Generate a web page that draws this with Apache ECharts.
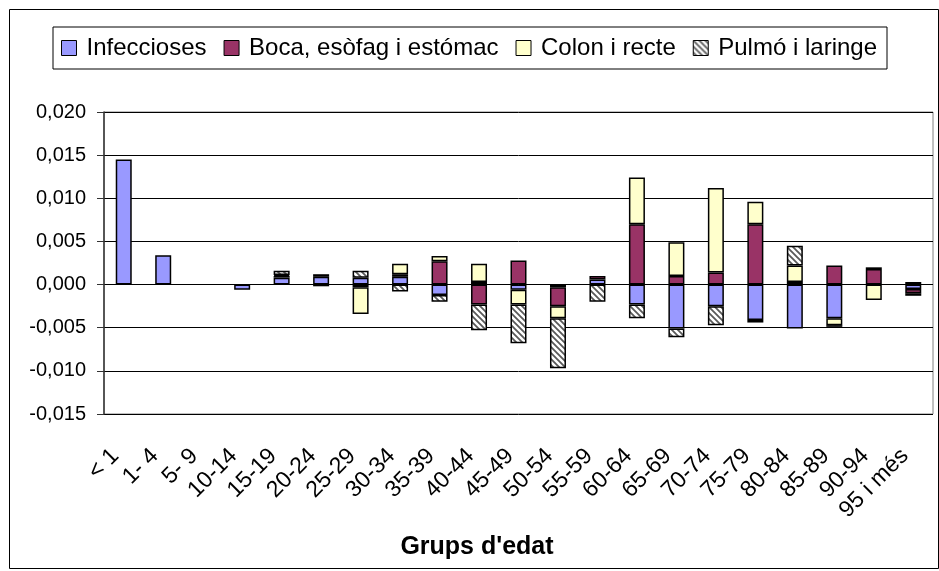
<!DOCTYPE html>
<html>
<head>
<meta charset="utf-8">
<script src="https://cdn.jsdelivr.net/npm/echarts@6/dist/echarts.min.js"></script>
<style>
html,body{margin:0;padding:0;background:#fff;}
#chart{width:939px;height:571px;}
</style>
</head>
<body>
<div id="chart"></div>
<script>
var categories = ['< 1','1- 4','5- 9','10-14','15-19','20-24','25-29','30-34','35-39','40-44','45-49','50-54','55-59','60-64','65-69','70-74','75-79','80-84','85-89','90-94','95 i més'];
var infeccioses = [0.0145, 0.0034, 0, -0.0006, 0.0008, 0.0009, 0.0008, 0.0009, -0.0012, 0.0003, -0.0006, -0.0003, 0.0006, -0.0023, -0.0051, -0.0025, -0.0041, -0.0051, -0.0039, 0, -0.0005];
var boca = [0, 0, 0, 0, 0.0002, 0.0003, -0.0003, 0.0003, 0.0027, -0.0023, 0.0028, -0.0022, 0.0004, 0.0070, 0.0010, 0.0014, 0.0070, 0.0003, 0.0022, 0.0018, -0.0005];
var colon = [0, 0, 0, 0, 0.0001, -0.0002, -0.0031, 0.0012, 0.0006, 0.0021, -0.0017, -0.0014, 0, 0.0054, 0.0039, 0.0098, 0.0026, 0.0019, -0.0008, -0.0018, -0.0003];
var pulmo = [0, 0, 0, 0, 0.0005, 0, 0.0008, -0.0008, -0.0008, -0.0030, -0.0045, -0.0058, -0.0020, -0.0016, -0.0010, -0.0022, -0.0003, 0.0023, -0.0002, 0.0002, 0.0003];
var seriesNames = ['Infeccioses', 'Boca, esòfag i estómac', 'Colon i recte', 'Pulmó i laringe'];
var yTicks = {min: -0.015, max: 0.020, interval: 0.005};
var xTitle = "Grups d'edat";

// hatch pattern
var pc = document.createElement('canvas');
pc.width = 6; pc.height = 6;
var ctx = pc.getContext('2d');
ctx.fillStyle = '#ffffff';
ctx.fillRect(0, 0, 6, 6);
ctx.strokeStyle = '#5a5a5a';
ctx.lineWidth = 1.8;
ctx.beginPath();
ctx.moveTo(-1, -1); ctx.lineTo(7, 7);
ctx.moveTo(-4, 2); ctx.lineTo(4, 10);
ctx.moveTo(2, -4); ctx.lineTo(10, 4);
ctx.stroke();
var hatch = {image: pc, repeat: 'repeat'};

var colors = ['#9999FF', '#993366', '#FFFFCC', hatch];
var dataSets = [infeccioses, boca, colon, pulmo];
var FONT = '"Liberation Sans", Arial, sans-serif';

var series = seriesNames.map(function (n, i) {
  return {
    name: n,
    type: 'bar',
    stack: 'total',
    barWidth: 16,
    data: dataSets[i].map(function (v) { return v === 0 ? null : v; }),
    itemStyle: {color: colors[i], borderColor: '#000', borderWidth: 1.5},
    emphasis: {disabled: true}
  };
});

var chart = echarts.init(document.getElementById('chart'), null, {renderer: 'canvas'});
chart.setOption({
  animation: false,
  backgroundColor: '#fff',
  textStyle: {fontFamily: FONT},
  graphic: [{
    type: 'rect', left: 7, top: 7, silent: true,
    shape: {width: 929, height: 559},
    style: {fill: 'none', stroke: '#000', lineWidth: 1}
  }],
  title: {
    text: xTitle,
    left: 472, top: 530, textAlign: 'center',
    textStyle: {fontSize: 25, fontWeight: 'bold', color: '#000', fontFamily: FONT}
  },
  legend: {
    left: 53, top: 27,
    padding: [8, 10, 8, 8],
    borderColor: '#000', borderWidth: 1,
    itemWidth: 15, itemHeight: 15, itemGap: 17,
    icon: 'rect',
    itemStyle: {borderColor: '#000', borderWidth: 1},
    textStyle: {fontSize: 24, color: '#000', fontFamily: FONT, lineHeight: 26, padding: [0, 0, 0, 5]},
    data: seriesNames
  },
  grid: {left: 104, right: 6, top: 112, bottom: 157, show: true, borderColor: '#808080', borderWidth: 1},
  xAxis: {
    type: 'category',
    data: categories,
    axisLine: {show: false, onZero: false},
    axisTick: {show: false},
    axisLabel: {rotate: 45, fontSize: 23, color: '#000', margin: 30, interval: 0, fontFamily: FONT, padding: [0, 12, 0, 0]}
  },
  yAxis: {
    type: 'value',
    min: yTicks.min, max: yTicks.max, interval: yTicks.interval,
    axisLine: {show: true, lineStyle: {color: '#333', width: 1.5}},
    axisTick: {show: true, length: 7, lineStyle: {color: '#333'}},
    splitLine: {lineStyle: {color: '#000', width: 1}},
    axisLabel: {
      fontSize: 20, color: '#000', margin: 18, fontFamily: FONT,
      formatter: function (v) { return v.toFixed(3).replace('.', ','); }
    }
  },
  series: series
});
</script>
</body>
</html>
